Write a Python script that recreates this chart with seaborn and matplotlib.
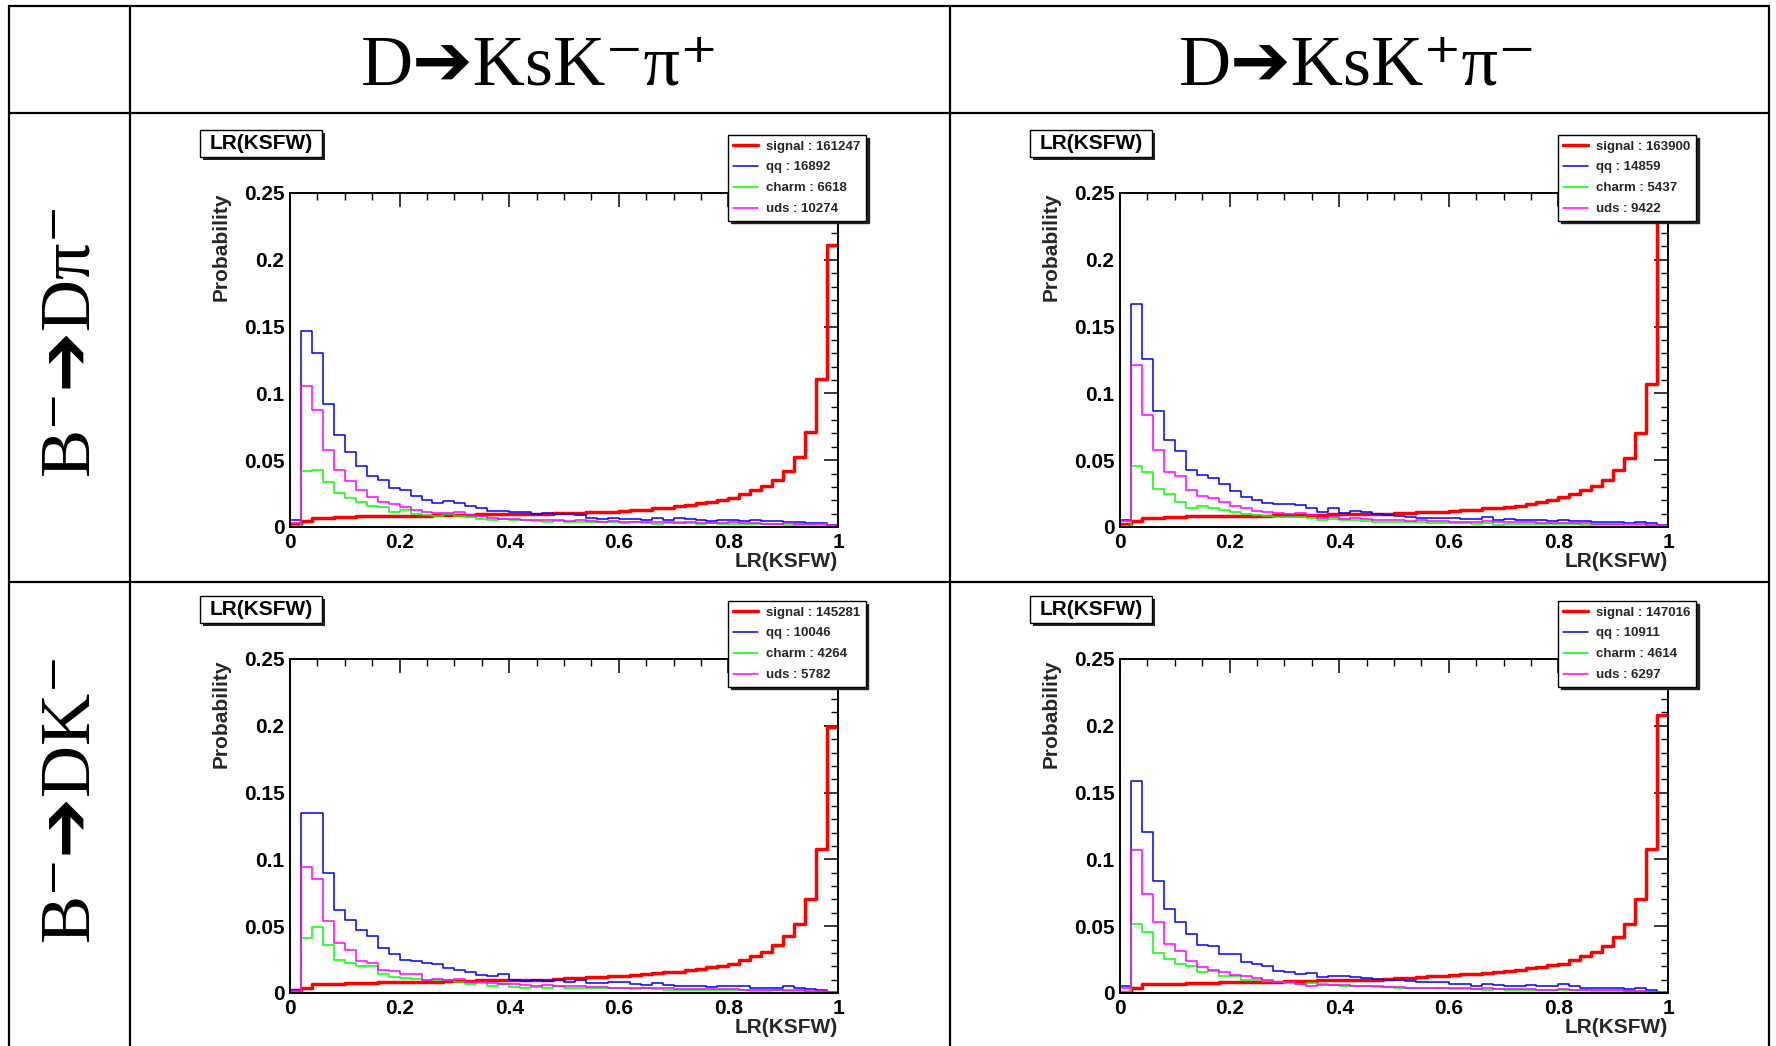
import numpy as np
import pandas as pd
import matplotlib
matplotlib.use("Agg")
import matplotlib.pyplot as plt
import seaborn as sns
from matplotlib.patches import Rectangle
from matplotlib.lines import Line2D
from matplotlib.ticker import MultipleLocator, FuncFormatter

sns.set_theme(style="white")
plt.rcParams["font.family"] = ["Liberation Sans", "DejaVu Sans"]

W, H, DPI = 1776, 1046, 100

# ---------------- data ----------------
N_BINS = 50
BIN_RANGE = (0.0, 1.0)
BIN_EDGES = np.linspace(BIN_RANGE[0], BIN_RANGE[1], N_BINS + 1)
BIN_CENTERS = (BIN_EDGES[:-1] + BIN_EDGES[1:]) / 2

COL_LABELS = ["D\u2794KsK\u207b\u03c0\u207a", "D\u2794KsK\u207a\u03c0\u207b"]
ROW_LABELS = ["B\u207b\u2794D\u03c0\u207b", "B\u207b\u2794DK\u207b"]
SERIES = ["signal", "qq", "charm", "uds"]
PANEL_TITLE = "LR(KSFW)"
X_LABEL = "LR(KSFW)"
Y_LABEL = "Probability"

# panel 1: B- -> D pi-, D -> KsK-pi+
P1_COUNTS = [161247, 16892, 6618, 10274]
P1_SIGNAL = [0.0025, 0.0045, 0.007, 0.007, 0.0075, 0.0075, 0.008, 0.008, 0.008, 0.008,
             0.0085, 0.0085, 0.0085, 0.009, 0.009, 0.009, 0.009, 0.0095, 0.0095, 0.0095,
             0.0095, 0.010, 0.010, 0.010, 0.0105, 0.0105, 0.0105, 0.011, 0.011, 0.011,
             0.012, 0.0125, 0.013, 0.014, 0.0145, 0.0155, 0.0165, 0.018, 0.019, 0.0205,
             0.022, 0.0245, 0.0275, 0.0305, 0.0355, 0.042, 0.0525, 0.071, 0.1105, 0.2108]
P1_QQ = [0.005, 0.147, 0.130, 0.092, 0.0685, 0.056, 0.046, 0.038, 0.035, 0.0295,
         0.028, 0.023, 0.0205, 0.018, 0.0195, 0.018, 0.016, 0.014, 0.012, 0.012,
         0.0115, 0.011, 0.0098, 0.0105, 0.010, 0.0095, 0.009, 0.0068, 0.006, 0.0068,
         0.006, 0.006, 0.0055, 0.0065, 0.0055, 0.007, 0.006, 0.005, 0.0045, 0.005,
         0.0055, 0.0045, 0.005, 0.0045, 0.0045, 0.004, 0.0035, 0.003, 0.003, 0.0015]
P1_CHARM = [0.001, 0.042, 0.043, 0.034, 0.0255, 0.022, 0.0185, 0.0155, 0.015, 0.011,
            0.0125, 0.010, 0.009, 0.008, 0.0095, 0.0085, 0.0075, 0.006, 0.0055, 0.006,
            0.0055, 0.005, 0.0045, 0.004, 0.0045, 0.004, 0.004, 0.0035, 0.004, 0.0035,
            0.003, 0.0035, 0.003, 0.0025, 0.003, 0.0035, 0.003, 0.0025, 0.003, 0.0025,
            0.0025, 0.002, 0.0025, 0.002, 0.002, 0.0015, 0.0015, 0.0015, 0.001, 0.001]
P1_UDS = [0.003, 0.1055, 0.0875, 0.058, 0.043, 0.0345, 0.028, 0.0225, 0.0185, 0.0175,
          0.015, 0.0125, 0.011, 0.0105, 0.0105, 0.011, 0.009, 0.008, 0.0065, 0.006,
          0.006, 0.0055, 0.005, 0.0055, 0.005, 0.0045, 0.005, 0.0045, 0.004, 0.0045,
          0.004, 0.0035, 0.004, 0.0035, 0.0035, 0.003, 0.0035, 0.003, 0.003, 0.003,
          0.0035, 0.003, 0.003, 0.0025, 0.0025, 0.003, 0.0025, 0.002, 0.002, 0.0015]

# panel 2: B- -> D pi-, D -> KsK+pi-
P2_COUNTS = [163900, 14859, 5437, 9422]
P2_SIGNAL = [0.002, 0.0045, 0.0065, 0.007, 0.0075, 0.0075, 0.008, 0.008, 0.008, 0.008,
             0.008, 0.0085, 0.0085, 0.0085, 0.009, 0.009, 0.009, 0.009, 0.009, 0.0095,
             0.0095, 0.0095, 0.010, 0.010, 0.010, 0.0105, 0.0105, 0.011, 0.011, 0.0115,
             0.012, 0.0125, 0.013, 0.014, 0.0145, 0.015, 0.016, 0.017, 0.0185, 0.0205,
             0.0225, 0.0245, 0.0275, 0.031, 0.0355, 0.0425, 0.052, 0.070, 0.107, 0.229]
P2_QQ = [0.0055, 0.167, 0.126, 0.087, 0.065, 0.057, 0.0425, 0.039, 0.037, 0.032,
         0.027, 0.0225, 0.0205, 0.018, 0.017, 0.0175, 0.0165, 0.0145, 0.0115, 0.014,
         0.0105, 0.012, 0.011, 0.0095, 0.009, 0.0085, 0.0075, 0.007, 0.007, 0.0068,
         0.0065, 0.006, 0.006, 0.0075, 0.005, 0.006, 0.0055, 0.005, 0.005, 0.0048,
         0.005, 0.0045, 0.0045, 0.004, 0.004, 0.0035, 0.003, 0.004, 0.003, 0.0015]
P2_CHARM = [0.001, 0.0455, 0.041, 0.0285, 0.0245, 0.019, 0.0145, 0.016, 0.0145, 0.0125,
            0.011, 0.010, 0.009, 0.008, 0.0075, 0.0075, 0.0075, 0.0065, 0.0055, 0.006,
            0.005, 0.005, 0.0045, 0.004, 0.004, 0.0035, 0.0035, 0.0035, 0.003, 0.003,
            0.003, 0.003, 0.0025, 0.003, 0.0015, 0.002, 0.0025, 0.002, 0.002, 0.002,
            0.002, 0.002, 0.0015, 0.0015, 0.0015, 0.0015, 0.001, 0.001, 0.001, 0.001]
P2_UDS = [0.0045, 0.121, 0.084, 0.058, 0.041, 0.038, 0.0275, 0.023, 0.022, 0.019,
          0.016, 0.014, 0.012, 0.011, 0.0105, 0.0098, 0.0105, 0.009, 0.007, 0.0075,
          0.006, 0.0065, 0.006, 0.005, 0.0055, 0.005, 0.0045, 0.005, 0.0045, 0.0045,
          0.004, 0.004, 0.0035, 0.0045, 0.004, 0.0035, 0.0035, 0.0035, 0.003, 0.003,
          0.003, 0.003, 0.003, 0.0025, 0.0025, 0.0025, 0.002, 0.002, 0.0015, 0.0015]

# panel 3: B- -> D K-, D -> KsK-pi+
P3_COUNTS = [145281, 10046, 4264, 5782]
P3_SIGNAL = [0.002, 0.004, 0.007, 0.007, 0.007, 0.0075, 0.0075, 0.0075, 0.008, 0.008,
             0.008, 0.0085, 0.0085, 0.0085, 0.009, 0.009, 0.009, 0.0095, 0.0095, 0.0095,
             0.0095, 0.010, 0.010, 0.010, 0.0105, 0.011, 0.0115, 0.012, 0.012, 0.0125,
             0.013, 0.0135, 0.014, 0.015, 0.0155, 0.016, 0.017, 0.018, 0.0195, 0.0205,
             0.022, 0.025, 0.028, 0.031, 0.036, 0.0425, 0.052, 0.070, 0.1075, 0.199]
P3_QQ = [0.002, 0.135, 0.1345, 0.090, 0.062, 0.0545, 0.047, 0.0425, 0.034, 0.029,
         0.025, 0.024, 0.0225, 0.022, 0.019, 0.017, 0.016, 0.0135, 0.0125, 0.0145,
         0.0095, 0.009, 0.010, 0.009, 0.0095, 0.0085, 0.0095, 0.0075, 0.0075, 0.008,
         0.008, 0.0065, 0.006, 0.0075, 0.006, 0.005, 0.005, 0.005, 0.0045, 0.005,
         0.0055, 0.0055, 0.0035, 0.0035, 0.004, 0.005, 0.004, 0.003, 0.0025, 0.0005]
P3_CHARM = [0.001, 0.041, 0.0495, 0.036, 0.025, 0.0225, 0.0205, 0.020, 0.0145, 0.012,
            0.0115, 0.0105, 0.0095, 0.0095, 0.010, 0.008, 0.007, 0.0075, 0.0055, 0.0065,
            0.0045, 0.004, 0.0045, 0.0035, 0.005, 0.004, 0.004, 0.0035, 0.0035, 0.004,
            0.0035, 0.003, 0.0035, 0.003, 0.0025, 0.0025, 0.002, 0.002, 0.0025, 0.002,
            0.002, 0.002, 0.0015, 0.0015, 0.002, 0.0015, 0.0015, 0.001, 0.001, 0.0005]
P3_UDS = [0.0015, 0.094, 0.085, 0.054, 0.0375, 0.032, 0.024, 0.0225, 0.017, 0.0165,
          0.014, 0.014, 0.010, 0.0105, 0.0095, 0.0105, 0.0085, 0.008, 0.0075, 0.007,
          0.0065, 0.006, 0.0055, 0.006, 0.0055, 0.005, 0.005, 0.0045, 0.0045, 0.004,
          0.004, 0.0035, 0.0035, 0.004, 0.0035, 0.003, 0.003, 0.003, 0.003, 0.003,
          0.003, 0.0025, 0.0025, 0.0025, 0.002, 0.0025, 0.002, 0.0015, 0.0015, 0.0005]

# panel 4: B- -> D K-, D -> KsK+pi-
P4_COUNTS = [147016, 10911, 4614, 6297]
P4_SIGNAL = [0.001, 0.0035, 0.0065, 0.007, 0.007, 0.007, 0.0075, 0.0075, 0.0075, 0.008,
             0.008, 0.008, 0.0085, 0.0085, 0.0085, 0.009, 0.009, 0.009, 0.0095, 0.0095,
             0.0095, 0.010, 0.010, 0.010, 0.0105, 0.011, 0.0115, 0.012, 0.0125, 0.013,
             0.0135, 0.014, 0.0145, 0.015, 0.016, 0.0165, 0.0175, 0.0185, 0.0195, 0.021,
             0.022, 0.0245, 0.028, 0.031, 0.0355, 0.042, 0.052, 0.0705, 0.1075, 0.208]
P4_QQ = [0.0055, 0.159, 0.1205, 0.0835, 0.063, 0.0535, 0.0445, 0.036, 0.035, 0.0295,
         0.029, 0.023, 0.0215, 0.020, 0.0165, 0.0155, 0.0145, 0.015, 0.012, 0.013,
         0.0125, 0.012, 0.0115, 0.0105, 0.010, 0.0095, 0.009, 0.0085, 0.008, 0.0085,
         0.007, 0.0065, 0.005, 0.007, 0.006, 0.0055, 0.0055, 0.006, 0.0055, 0.005,
         0.0065, 0.005, 0.004, 0.004, 0.004, 0.004, 0.003, 0.0035, 0.002, 0.001]
P4_CHARM = [0.001, 0.052, 0.046, 0.030, 0.0255, 0.022, 0.0205, 0.016, 0.0165, 0.013,
            0.0125, 0.010, 0.0095, 0.009, 0.0085, 0.0075, 0.007, 0.0075, 0.0065, 0.006,
            0.0055, 0.005, 0.005, 0.0045, 0.0045, 0.004, 0.004, 0.0035, 0.0035, 0.0035,
            0.003, 0.003, 0.003, 0.0025, 0.003, 0.0025, 0.0025, 0.0025, 0.002, 0.002,
            0.002, 0.002, 0.002, 0.0015, 0.0015, 0.0015, 0.0015, 0.001, 0.001, 0.0005]
P4_UDS = [0.0035, 0.107, 0.074, 0.053, 0.037, 0.0315, 0.024, 0.0195, 0.017, 0.016,
          0.0135, 0.0125, 0.011, 0.0095, 0.0085, 0.0085, 0.0065, 0.0055, 0.006, 0.006,
          0.006, 0.0055, 0.005, 0.005, 0.0045, 0.0045, 0.004, 0.004, 0.004, 0.0035,
          0.0035, 0.0035, 0.003, 0.0035, 0.003, 0.003, 0.003, 0.003, 0.0025, 0.0025,
          0.003, 0.0025, 0.0025, 0.002, 0.002, 0.002, 0.0015, 0.0015, 0.001, 0.0005]

PANELS = [
    (P1_COUNTS, [P1_SIGNAL, P1_QQ, P1_CHARM, P1_UDS]),
    (P2_COUNTS, [P2_SIGNAL, P2_QQ, P2_CHARM, P2_UDS]),
    (P3_COUNTS, [P3_SIGNAL, P3_QQ, P3_CHARM, P3_UDS]),
    (P4_COUNTS, [P4_SIGNAL, P4_QQ, P4_CHARM, P4_UDS]),
]

# ---------------- style ----------------
COLORS = ["#ff0000", "#0000ff", "#00ff00", "#ff00ff"]
LWIDTHS = [2.5, 1.1, 1.1, 1.1]
SERIF = ["Liberation Serif", "DejaVu Sans"]
BOLD = dict(family=["Liberation Sans", "DejaVu Sans"], weight="bold")

# axes boxes in pixels (left, right, top, bottom), top-left origin
AXES_PX = [(290, 838, 193, 527), (1120, 1668, 193, 527),
           (290, 838, 659, 993), (1120, 1668, 659, 993)]


def fx(px):
    return px / W


def fy(py):
    return 1 - py / H


fig = plt.figure(figsize=(W / DPI, H / DPI), dpi=DPI)
fig.patch.set_facecolor("white")

# ---------------- table grid ----------------
TL = dict(color="black", lw=1.6, transform=fig.transFigure)
for yy in (6, 113, 582):
    fig.add_artist(Line2D([fx(9), fx(1769)], [fy(yy), fy(yy)], **TL))
for xx in (9, 130, 950, 1769):
    fig.add_artist(Line2D([fx(xx), fx(xx)], [fy(6), fy(1046)], **TL))

# headers
for xc, lab in zip((540, 1358), COL_LABELS):
    fig.text(fx(xc), fy(67), lab, ha="center", va="center", fontsize=52,
             family=SERIF, color="black")
for yc, lab in zip((338, 796), ROW_LABELS):
    fig.text(fx(70), fy(yc), lab, ha="center", va="center", fontsize=52,
             rotation=90, family=SERIF, color="black")

fmt = FuncFormatter(lambda v, p: f"{v:g}")

for (l, r, t, b), (counts, series_vals) in zip(AXES_PX, PANELS):
    ax = fig.add_axes([fx(l), fy(b), (r - l) / W, (b - t) / H])
    ax.set_facecolor("white")
    df = pd.DataFrame({
        "lr": np.tile(BIN_CENTERS, len(SERIES)),
        "prob": np.concatenate([np.asarray(v, dtype=float) for v in series_vals]),
        "sample": np.repeat(SERIES, len(BIN_CENTERS)),
    })
    for name, col, lw in zip(SERIES, COLORS, LWIDTHS):
        sub = df[df["sample"] == name]
        sns.histplot(data=sub, x="lr", weights="prob", bins=N_BINS,
                     binrange=BIN_RANGE, element="step", fill=False,
                     color=col, linewidth=lw, ax=ax, legend=False)
    ax.set_xlim(0, 1)
    ax.set_ylim(0, 0.25)
    ax.grid(False)
    ax.xaxis.set_major_locator(MultipleLocator(0.2))
    ax.xaxis.set_minor_locator(MultipleLocator(0.05))
    ax.yaxis.set_major_locator(MultipleLocator(0.05))
    ax.yaxis.set_minor_locator(MultipleLocator(0.01))
    ax.xaxis.set_major_formatter(fmt)
    ax.yaxis.set_major_formatter(fmt)
    ax.tick_params(which="both", direction="in", top=True, right=True,
                   color="black", labelcolor="black")
    ax.tick_params(which="major", length=10, width=1.1, pad=4, labelsize=15)
    ax.tick_params(which="minor", length=5, width=1.0)
    for lab in ax.get_xticklabels() + ax.get_yticklabels():
        lab.set_fontweight("bold")
        lab.set_family(BOLD["family"])
    for sp in ax.spines.values():
        sp.set_color("black")
        sp.set_linewidth(1.4)
    ax.set_xlabel(X_LABEL, loc="right", fontsize=15, **BOLD)
    ax.set_ylabel(Y_LABEL, loc="top", fontsize=15, **BOLD)
    ax.xaxis.set_label_coords(1.0, -0.075)
    ax.yaxis.set_label_coords(-0.108, 1.0)

    # legend
    handles = [Line2D([], [], color=c, lw=lw) for c, lw in zip(COLORS, LWIDTHS)]
    labels = [f"{s} : {n}" for s, n in zip(SERIES, counts)]
    leg = ax.legend(handles, labels, loc="upper left",
                    bbox_to_anchor=(fx(r - 110), fy(t - 58)),
                    bbox_transform=fig.transFigure, borderaxespad=0,
                    frameon=True, fancybox=False,
                    shadow={"color": "#222222", "alpha": 1.0},
                    edgecolor="black", framealpha=1.0,
                    prop=dict(family="Liberation Sans", weight="bold", size=9.5),
                    handlelength=1.9, handletextpad=0.6, borderpad=0.4,
                    labelspacing=0.66)
    leg.get_frame().set_linewidth(1.0)

    # title box with shadow
    bx0, by0, bw, bh = l - 90, t - 63, 122, 27
    fig.add_artist(Rectangle((fx(bx0 + 3), fy(by0 + bh + 3)), bw / W, bh / H,
                             transform=fig.transFigure, facecolor="#222222",
                             edgecolor="none"))
    fig.add_artist(Rectangle((fx(bx0), fy(by0 + bh)), bw / W, bh / H,
                             transform=fig.transFigure, facecolor="white",
                             edgecolor="black", lw=1.0))
    fig.text(fx(bx0 + bw / 2), fy(by0 + bh / 2), PANEL_TITLE, ha="center",
             va="center", fontsize=15, color="black", **BOLD)

fig.savefig("out.png", dpi=DPI, facecolor="white")
